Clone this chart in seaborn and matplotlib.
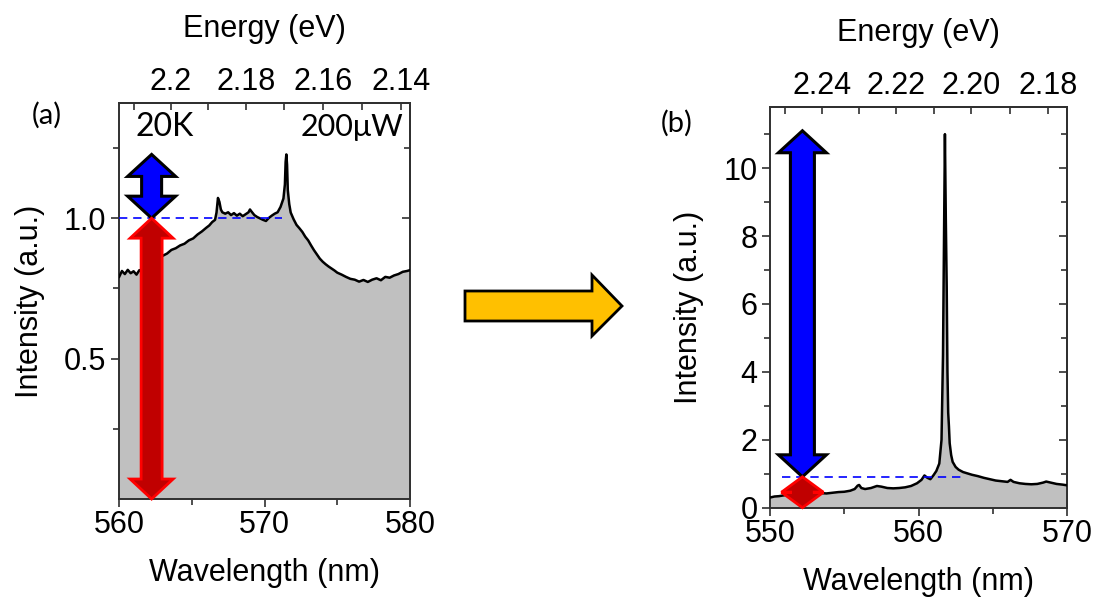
import numpy as np
import matplotlib
matplotlib.use("Agg")
import matplotlib.pyplot as plt
import seaborn as sns
from matplotlib.patches import Polygon
from matplotlib.ticker import FixedLocator, FixedFormatter, NullFormatter

HC = 1239.84  # photon energy conversion, eV * nm

# ---- Panel (a): PL spectrum at 20 K, 200 uW ----
wl_a = [560.0, 560.2, 560.4, 560.6, 560.8, 561.0, 561.2, 561.4, 561.6, 561.8,
        562.0, 562.2, 562.4, 562.6, 562.8, 563.0, 563.3, 563.6, 563.9, 564.2,
        564.5, 564.8, 565.1, 565.4, 565.7, 566.0, 566.2, 566.4, 566.6, 566.7,
        566.8, 566.9, 567.0, 567.1, 567.3, 567.5, 567.7, 567.9, 568.1, 568.3,
        568.5, 568.7, 568.9, 569.0, 569.1, 569.3, 569.5, 569.7, 569.9, 570.1,
        570.3, 570.5, 570.7, 570.9, 571.1, 571.3, 571.4, 571.45, 571.5, 571.55,
        571.6, 571.7, 571.8, 572.0, 572.2, 572.4, 572.6, 572.8, 573.0, 573.2,
        573.4, 573.6, 573.8, 574.0, 574.2, 574.4, 574.6, 574.8, 575.0, 575.3,
        575.6, 575.9, 576.2, 576.5, 576.8, 577.1, 577.4, 577.7, 578.0, 578.3,
        578.6, 578.9, 579.2, 579.5, 579.8, 580.0]
int_a = [0.790, 0.812, 0.801, 0.816, 0.804, 0.811, 0.799, 0.815, 0.808, 0.822,
         0.826, 0.841, 0.848, 0.856, 0.859, 0.866, 0.874, 0.887, 0.893, 0.903,
         0.909, 0.921, 0.928, 0.942, 0.953, 0.966, 0.974, 0.986, 0.994, 1.020,
         1.072, 1.058, 1.031, 1.021, 1.016, 1.021, 1.011, 1.018, 1.009, 1.016,
         1.007, 1.014, 1.021, 1.031, 1.024, 1.011, 1.004, 0.999, 0.994, 0.990,
         1.001, 1.009, 1.016, 1.021, 1.040, 1.070, 1.120, 1.200, 1.227, 1.190,
         1.100, 1.050, 1.020, 0.996, 0.976, 0.964, 0.951, 0.934, 0.921, 0.903,
         0.886, 0.871, 0.856, 0.845, 0.836, 0.828, 0.821, 0.814, 0.806, 0.799,
         0.791, 0.784, 0.781, 0.774, 0.780, 0.773, 0.781, 0.786, 0.779, 0.791,
         0.788, 0.796, 0.801, 0.809, 0.812, 0.815]

# ---- Panel (b): PL spectrum showing the sharp emission line ----
wl_b = [550.0, 550.3, 550.6, 551.0, 551.4, 551.8, 552.2, 552.6, 553.0, 553.4,
        553.8, 554.2, 554.6, 555.0, 555.4, 555.7, 555.9, 556.0, 556.15, 556.4,
        556.8, 557.2, 557.5, 557.9, 558.3, 558.7, 559.1, 559.5, 559.9, 560.2,
        560.4, 560.6, 560.8, 561.0, 561.2, 561.4, 561.55, 561.65, 561.72, 561.78,
        561.84, 561.9, 561.95, 562.0, 562.05, 562.1, 562.2, 562.3, 562.5, 562.7,
        563.0, 563.3, 563.6, 564.0, 564.4, 564.8, 565.2, 565.6, 566.0, 566.2,
        566.4, 566.8, 567.2, 567.6, 568.0, 568.4, 568.6, 568.9, 569.3, 569.7,
        570.0]
int_b = [0.30, 0.33, 0.34, 0.37, 0.38, 0.40, 0.42, 0.43, 0.44, 0.43,
         0.42, 0.44, 0.46, 0.47, 0.50, 0.55, 0.65, 0.67, 0.58, 0.55,
         0.58, 0.64, 0.62, 0.58, 0.57, 0.58, 0.60, 0.64, 0.72, 0.82,
         0.95, 0.88, 0.84, 0.95, 1.08, 1.30, 2.00, 4.50, 8.00, 11.00,
         8.50, 6.50, 4.00, 2.80, 2.40, 1.90, 1.55, 1.35, 1.20, 1.12,
         1.05, 1.01, 0.97, 0.93, 0.88, 0.84, 0.80, 0.78, 0.76, 0.82,
         0.76, 0.72, 0.70, 0.69, 0.70, 0.74, 0.77, 0.74, 0.70, 0.68,
         0.66]

# background levels and arrow positions (nm)
bg_a, bg_b = 1.0, 0.91
arrow_x_a, arrow_x_b = 562.24, 552.18
dash_a = (560.0, 571.2)
dash_b = (550.8, 562.9)

energy_ticks_a = [2.20, 2.18, 2.16, 2.14]
energy_labels_a = ["2.2", "2.18", "2.16", "2.14"]
energy_minor_a = [2.21, 2.19, 2.17, 2.15]
energy_ticks_b = [2.24, 2.22, 2.20, 2.18]
energy_labels_b = ["2.24", "2.22", "2.20", "2.18"]
energy_minor_b = [2.25, 2.23, 2.21, 2.19]

sns.set_theme(style="ticks")
plt.rcParams["font.family"] = ["Liberation Sans", "DejaVu Sans"]
plt.rcParams["text.color"] = "black"
plt.rcParams["axes.labelcolor"] = "black"
plt.rcParams["xtick.labelcolor"] = "black"
plt.rcParams["ytick.labelcolor"] = "black"
plt.rcParams["axes.edgecolor"] = "#303030"
plt.rcParams["axes.linewidth"] = 1.4

FS = 22
W, H = 1096, 599
fig = plt.figure(figsize=(W / 100, H / 100), dpi=100)
ax1 = fig.add_axes([0.1086, 0.1669, 0.2655, 0.6611])
ax2 = fig.add_axes([0.7026, 0.1524, 0.2709, 0.6690])


def nm_to_ev(x):
    x = np.asarray(x, dtype=float)
    with np.errstate(divide="ignore", invalid="ignore"):
        return HC / x


def draw_spectrum(ax, wl, inten):
    ax.fill_between(wl, 0, inten, color="#C0C0C0", lw=0, zorder=1)
    sns.lineplot(x=wl, y=inten, ax=ax, color="black", lw=1.8, zorder=3,
                 estimator=None)


def style_axes(ax, xlim, ylim, xt, xminor, yt, ylabels, yminor,
               eticks, elabels, eminor):
    ax.set_xlim(*xlim)
    ax.set_ylim(*ylim)
    ax.set_xticks(xt)
    ax.set_xticklabels([str(v) for v in xt])
    ax.xaxis.set_minor_locator(FixedLocator(xminor))
    ax.set_yticks(yt)
    ax.set_yticklabels(ylabels)
    ax.yaxis.set_minor_locator(FixedLocator(yminor))
    ax.tick_params(which="both", direction="out", labelsize=FS,
                   color="#303030", width=1.2)
    ax.tick_params(axis="x", pad=2)
    ax.tick_params(axis="y", pad=3)
    ax.tick_params(which="major", length=6)
    ax.tick_params(which="minor", length=4)
    ax.set_xlabel("Wavelength (nm)", fontsize=FS, labelpad=13)
    ax.set_ylabel("Intensity (a.u.)", fontsize=FS, labelpad=14)
    for s in ax.spines.values():
        s.set_visible(True)

    top = ax.secondary_xaxis("top", functions=(nm_to_ev, nm_to_ev))
    top.xaxis.set_major_locator(FixedLocator(eticks))
    top.xaxis.set_major_formatter(FixedFormatter(elabels))
    top.xaxis.set_minor_locator(FixedLocator(eminor))
    top.xaxis.set_minor_formatter(NullFormatter())
    top.tick_params(which="both", direction="in", length=5, labelsize=FS,
                    color="#303030", width=1.2, pad=4)
    top.set_xlabel("Energy (eV)", fontsize=FS, labelpad=22)

    right = ax.secondary_yaxis("right")
    right.set_yticks(yt)
    right.yaxis.set_minor_locator(FixedLocator(yminor))
    right.tick_params(which="both", direction="in", labelright=False,
                      color="#303030", width=1.2)
    right.tick_params(which="major", length=6)
    right.tick_params(which="minor", length=4)


def double_arrow(ax, x, y0, y1, half_head, half_shaft, head_len,
                 face, edge, lw):
    t = ax.transData
    cx, p0 = t.transform((x, y0))
    _, p1 = t.transform((x, y1))
    hl = min(head_len, (p1 - p0) / 2)
    pts = [(cx, p1), (cx + half_head, p1 - hl), (cx + half_shaft, p1 - hl),
           (cx + half_shaft, p0 + hl), (cx + half_head, p0 + hl), (cx, p0),
           (cx - half_head, p0 + hl), (cx - half_shaft, p0 + hl),
           (cx - half_shaft, p1 - hl), (cx - half_head, p1 - hl)]
    ax.add_patch(Polygon(t.inverted().transform(pts), closed=True,
                         facecolor=face, edgecolor=edge, lw=lw,
                         joinstyle="miter", clip_on=False, zorder=6))


# panel (a)
draw_spectrum(ax1, wl_a, int_a)
style_axes(ax1, (560, 580), (0, 1.41), [560, 570, 580], [565, 575],
           [0.5, 1.0], ["0.5", "1.0"], [0.25, 0.75, 1.25],
           energy_ticks_a, energy_labels_a, energy_minor_a)
ax1.plot(dash_a, [bg_a, bg_a], color="blue", lw=1.2, ls=(0, (5, 3.5)),
         zorder=4)
double_arrow(ax1, arrow_x_a, bg_a, max(int_a), 24, 10, 22,
             "#0000FF", "black", 2.2)
double_arrow(ax1, arrow_x_a, 0, bg_a, 21.5, 10.5, 20,
             "#C00000", "#FF0000", 2.0)
ax1.text(0.155, 0.939, "20K", transform=ax1.transAxes, ha="center",
         va="center", fontsize=23, family=["Lato", "DejaVu Sans"])
ax1.text(0.976, 0.939, "200\u03bcW", transform=ax1.transAxes, ha="right",
         va="center", fontsize=22, family=["Lato", "DejaVu Sans"])

# panel (b)
draw_spectrum(ax2, wl_b, int_b)
style_axes(ax2, (550, 570), (0, 11.8), [550, 560, 570], [555, 565],
           [0, 2, 4, 6, 8, 10], ["0", "2", "4", "6", "8", "10"],
           [1, 3, 5, 7, 9, 11],
           energy_ticks_b, energy_labels_b, energy_minor_b)
ax2.plot(dash_b, [bg_b, bg_b], color="blue", lw=1.2, ls=(0, (5, 3.5)),
         zorder=4)
double_arrow(ax2, arrow_x_b, bg_b, 11.1, 24, 12, 22,
             "#0000FF", "black", 2.2)
double_arrow(ax2, arrow_x_b, 0, bg_b, 21, 10.5, 20,
             "#C00000", "#FF0000", 2.0)

fig.text(47 / W, 1 - 115 / H, "(a)", ha="center", va="center",
         fontsize=21, family=["Lato", "DejaVu Sans"])
fig.text(677 / W, 1 - 123 / H, "(b)", ha="center", va="center",
         fontsize=21, family=["Lato", "DejaVu Sans"])

# yellow arrow linking the two panels (figure pixels)
shaft_l, shaft_r, tip_x = 465, 592, 622
shaft_t, shaft_b, head_t, head_b, tip_y = 291, 321, 275, 336, 306
arrow_px = [(shaft_l, shaft_t), (shaft_r, shaft_t), (shaft_r, head_t),
            (tip_x, tip_y), (shaft_r, head_b), (shaft_r, shaft_b),
            (shaft_l, shaft_b)]
fig.add_artist(Polygon([(x / W, 1 - y / H) for x, y in arrow_px],
                       closed=True, facecolor="#FFC000", edgecolor="black",
                       lw=2.0, joinstyle="miter",
                       transform=fig.transFigure))

fig.savefig("out.png", dpi=100)
